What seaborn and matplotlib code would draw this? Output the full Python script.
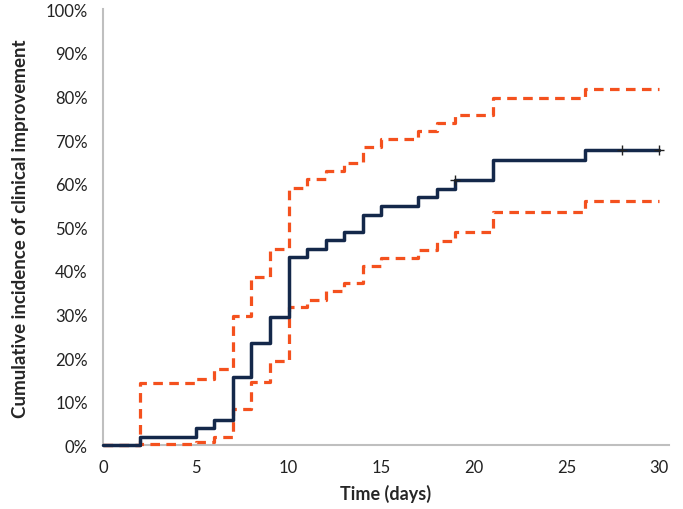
import matplotlib.pyplot as plt
import seaborn as sns
import pandas as pd
from matplotlib.ticker import PercentFormatter

# Kaplan-Meier style cumulative incidence (step post)
days = [0, 2, 5, 6, 7, 8, 9, 10, 11, 12, 13, 14, 15, 17, 18, 19, 21, 26, 30]
incidence = [0, 2.0, 3.9, 5.9, 15.7, 23.5, 29.4, 43.1, 45.1, 47.1, 49.0,
             52.9, 54.9, 56.9, 58.8, 60.8, 65.4, 67.7, 67.7]

# confidence band, starts at day 0 (hidden under the main line until day 2)
ci_days = [0, 2, 5, 6, 7, 8, 9, 10, 11, 12, 13, 14, 15, 17, 18, 19, 21, 26, 30]
ci_upper = [0, 14.2, 15.2, 17.6, 29.6, 38.5, 45.0, 59.0, 61.0, 62.9, 64.8,
            68.3, 70.2, 72.0, 73.9, 75.7, 79.7, 81.7, 81.7]
ci_lower = [0, 0.4, 0.8, 2.0, 8.3, 14.4, 19.3, 31.6, 33.4, 35.3, 37.1,
            41.0, 42.9, 44.8, 46.9, 49.0, 53.6, 56.0, 56.0]

censor_days = [19, 28, 30]
censor_vals = [60.8, 67.7, 67.7]

navy = '#14284a'
orange = '#f4511e'
grey = '#bfbfbf'

sns.set_style('white')
plt.rcParams['font.family'] = ['Lato', 'DejaVu Sans']

fig, ax = plt.subplots(figsize=(6.83, 5.1), dpi=100)
fig.subplots_adjust(left=0.151, right=0.979, top=0.980, bottom=0.125)

ci = pd.DataFrame({'day': ci_days, 'upper': ci_upper, 'lower': ci_lower})
main = pd.DataFrame({'day': days, 'value': incidence})

for col in ['upper', 'lower']:
    sns.lineplot(data=ci, x='day', y=col, ax=ax, color=orange, lw=2.3,
                 linestyle=(0, (3, 2)), drawstyle='steps-post',
                 clip_on=False, zorder=4)
sns.lineplot(data=main, x='day', y='value', ax=ax, color=navy, lw=2.5,
             drawstyle='steps-post', clip_on=False, zorder=5)
sns.scatterplot(x=censor_days, y=censor_vals, ax=ax, marker='+', s=45,
                color='#222222', linewidth=1.0, zorder=6, clip_on=False)

ax.set_xlim(0, 30.5)
ax.set_ylim(0, 100)
ax.set_xticks(range(0, 31, 5))
ax.set_yticks(range(0, 101, 10))
ax.yaxis.set_major_formatter(PercentFormatter(decimals=0))
ax.tick_params(axis='both', labelsize=12, colors='#222222', length=8,
               width=1.2, color=grey, direction='inout')
ax.tick_params(axis='x', pad=6)
ax.tick_params(axis='y', pad=7)
ax.set_xlabel('Time (days)', fontsize=13, fontweight='bold', labelpad=6)
ax.set_ylabel('Cumulative incidence of clinical improvement', fontsize=13.5,
              fontweight='bold', labelpad=12)
for side in ['top', 'right']:
    ax.spines[side].set_visible(False)
for side in ['left', 'bottom']:
    ax.spines[side].set_color(grey)
    ax.spines[side].set_linewidth(1.5)

plt.savefig('out.png', dpi=100)
